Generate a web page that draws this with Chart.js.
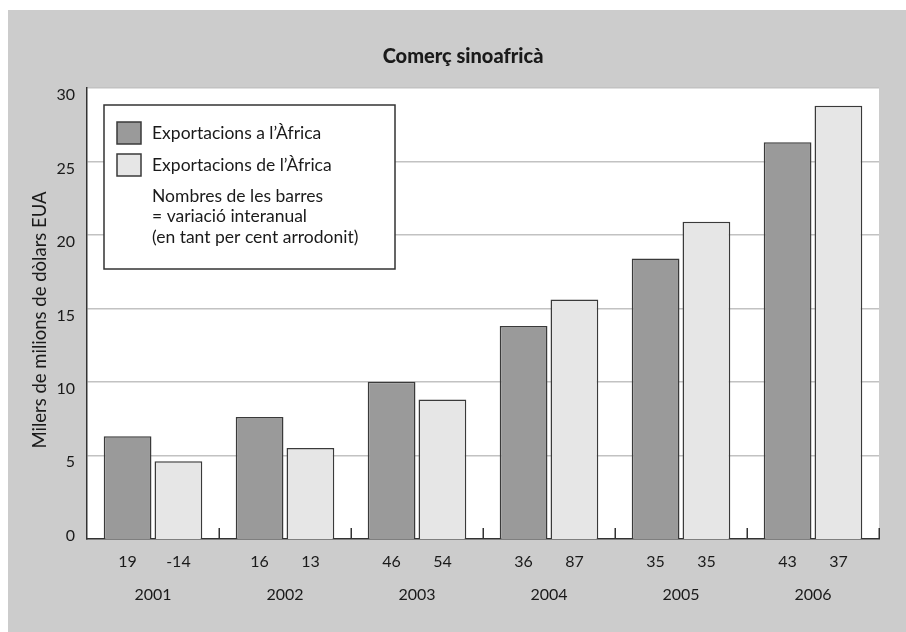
<!DOCTYPE html>
<html>
<head>
<meta charset="utf-8">
<script src="https://cdn.jsdelivr.net/npm/chart.js@4/dist/chart.umd.min.js"></script>
<style>
  html, body { margin: 0; padding: 0; background: #ffffff; }
  #wrap { width: 906px; height: 632px; position: relative; }
  canvas { display: block; }
</style>
</head>
<body>
<div id="wrap"><canvas id="c" width="906" height="632"></canvas></div>
<script>
// Sino-African trade, billions of US dollars
const years = ['2001', '2002', '2003', '2004', '2005', '2006'];
const exportsToAfrica = [6.3, 7.6, 10.0, 13.8, 18.4, 26.3];
const exportsFromAfrica = [4.6, 5.5, 8.8, 15.6, 20.9, 28.8];
// Year-on-year change, rounded percent
const changeToAfrica = [19, 16, 46, 36, 35, 43];
const changeFromAfrica = [-14, 13, 54, 87, 35, 37];
const yTicks = [0, 5, 10, 15, 20, 25, 30];

const seriesNames = ['Exportacions a l\u2019\u00C0frica', 'Exportacions de l\u2019\u00C0frica'];
const noteLines = ['Nombres de les barres', '= variaci\u00F3 interanual', '(en tant per cent arrodonit)'];
const titleText = 'Comer\u00E7 sinoafric\u00E0';
const yTitle = 'Milers de milions de d\u00F2lars EUA';

const FONT = 'Lato, "Open Sans", sans-serif';
const TEXT = '#1a1a1a';
const AXIS = '#333333';
const Y_FLOOR = -0.7;

const panelPlugin = {
  id: 'panel',
  beforeDraw(chart) {
    const { ctx, chartArea: a } = chart;
    ctx.save();
    ctx.fillStyle = '#ffffff';
    ctx.fillRect(0, 0, chart.width, chart.height);
    ctx.fillStyle = '#cccccc';
    ctx.fillRect(8, 10, chart.width - 8, chart.height - 10);
    ctx.fillStyle = '#ffffff';
    ctx.fillRect(a.left, a.top, a.right - a.left, a.bottom - a.top);
    ctx.restore();
  }
};

const annotatePlugin = {
  id: 'annotate',
  afterDraw(chart) {
    const { ctx, chartArea: a } = chart;
    ctx.save();

    // inner tick marks at category boundaries
    ctx.strokeStyle = AXIS;
    ctx.lineWidth = 1.5;
    const n = years.length;
    for (let i = 1; i <= n; i++) {
      const x = Math.round(a.left + i * (a.right - a.left) / n) + 0.25;
      ctx.beginPath();
      ctx.moveTo(x, a.bottom);
      ctx.lineTo(x, a.bottom - 11);
      ctx.stroke();
    }

    // percentage change under each bar
    ctx.fillStyle = TEXT;
    ctx.font = '16px ' + FONT;
    ctx.textAlign = 'center';
    ctx.textBaseline = 'middle';
    const changes = [changeToAfrica, changeFromAfrica];
    chart.data.datasets.forEach((ds, di) => {
      const meta = chart.getDatasetMeta(di);
      meta.data.forEach((bar, i) => {
        ctx.fillText(String(changes[di][i]), bar.x, a.bottom + 23);
      });
    });

    // title
    ctx.font = '900 20px ' + FONT;
    ctx.fillText(titleText, 463, 57);

    // y axis title
    ctx.save();
    ctx.translate(40, 320);
    ctx.rotate(-Math.PI / 2);
    ctx.font = '18.5px ' + FONT;
    ctx.fillText(yTitle, 0, 0);
    ctx.restore();

    // legend box
    const bx = 104, by = 105, bw = 291, bh = 164;
    ctx.fillStyle = '#ffffff';
    ctx.fillRect(bx, by, bw, bh);
    ctx.strokeStyle = AXIS;
    ctx.lineWidth = 1.5;
    ctx.strokeRect(bx, by, bw, bh);

    ctx.textAlign = 'left';
    ctx.font = '17.5px ' + FONT;
    const rows = [133, 165];
    chart.data.datasets.forEach((ds, di) => {
      const cy = rows[di];
      ctx.fillStyle = ds.backgroundColor;
      ctx.fillRect(117, cy - 11, 24, 22);
      ctx.strokeStyle = ds.borderColor;
      ctx.strokeRect(117, cy - 11, 24, 22);
      ctx.fillStyle = TEXT;
      ctx.fillText(ds.label, 152, cy);
    });
    const noteY = [196, 216.5, 237];
    noteLines.forEach((t, i) => ctx.fillText(t, 152, noteY[i]));

    ctx.restore();
  }
};

new Chart(document.getElementById('c'), {
  type: 'bar',
  data: {
    labels: years,
    datasets: [
      {
        label: seriesNames[0],
        data: exportsToAfrica,
        backgroundColor: '#9a9a9a',
        borderColor: '#3a3a3a',
        borderWidth: 1.5,
        base: Y_FLOOR
      },
      {
        label: seriesNames[1],
        data: exportsFromAfrica,
        backgroundColor: '#e6e6e6',
        borderColor: '#3a3a3a',
        borderWidth: 1.5,
        base: Y_FLOOR
      }
    ]
  },
  options: {
    responsive: false,
    devicePixelRatio: 1,
    animation: false,
    events: [],
    layout: { padding: { top: 88, right: 27, bottom: 0, left: 8 } },
    datasets: { bar: { categoryPercentage: 0.77, barPercentage: 0.94 } },
    plugins: {
      legend: { display: false },
      title: { display: false },
      tooltip: { enabled: false }
    },
    scales: {
      x: {
        type: 'category',
        offset: true,
        afterFit(scale) { scale.height = 93; },
        grid: { display: false, drawTicks: false },
        border: { display: true, color: AXIS, width: 1.5 },
        ticks: { color: TEXT, font: { family: FONT, size: 16 }, padding: 46, maxRotation: 0 }
      },
      y: {
        min: Y_FLOOR,
        max: 30,
        afterFit(scale) { scale.width = 79; },
        afterBuildTicks(scale) { scale.ticks = yTicks.map(v => ({ value: v })); },
        grid: {
          drawTicks: false,
          color: c => (c.tick && c.tick.value === 0) ? 'rgba(0,0,0,0)' : '#c2c2c2',
          lineWidth: 1.5
        },
        border: { display: true, color: AXIS, width: 1.5 },
        ticks: { color: TEXT, font: { family: FONT, size: 16 }, padding: 12, labelOffset: 7 }
      }
    }
  },
  plugins: [panelPlugin, annotatePlugin]
});
</script>
</body>
</html>
